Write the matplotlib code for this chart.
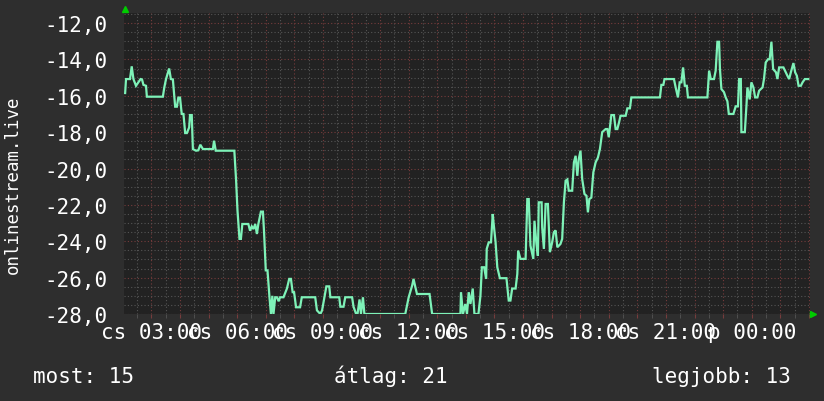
import matplotlib
matplotlib.use("Agg")
import matplotlib.pyplot as plt
from matplotlib.ticker import MultipleLocator
import numpy as np

# ---- data (hours since Thursday 00:00, value) ----
hours = [2.08, 2.11, 2.25, 2.31, 2.37, 2.46, 2.54, 2.62, 2.67, 2.72, 2.81, 2.84,
         3.40, 3.45, 3.51, 3.62, 3.68, 3.75, 3.83, 3.89, 3.94, 4.00, 4.06, 4.12,
         4.18, 4.24, 4.32, 4.35, 4.41, 4.45, 4.56, 4.64, 4.71, 4.80, 5.15, 5.19,
         5.25, 5.90, 5.96, 6.01, 6.08, 6.13, 6.18, 6.39, 6.45, 6.51, 6.57, 6.63,
         6.69, 6.74, 6.83, 6.90, 6.94, 7.00, 7.06, 7.13, 7.18, 7.23, 7.27, 7.33,
         7.39, 7.45, 7.50, 7.62, 7.74, 7.82, 7.88, 7.94, 7.99, 8.06, 8.20, 8.26,
         8.73, 8.79, 8.91, 8.97, 9.05, 9.12, 9.22, 9.26, 9.57, 9.61, 9.72, 9.78,
         10.02, 10.07, 10.16, 10.21, 10.28, 10.33, 10.40, 10.45, 11.88, 12.00,
         12.12, 12.17, 12.23, 12.29, 12.73, 12.82, 13.81, 13.83, 13.90, 13.98,
         14.04, 14.10, 14.16, 14.24, 14.30, 14.37, 14.44, 14.51, 14.56, 14.64,
         14.71, 14.73, 14.80, 14.88, 14.94, 14.97, 15.04, 15.10, 15.19, 15.42,
         15.50, 15.56, 15.62, 15.74, 15.80, 15.83, 15.91, 16.09, 16.15, 16.20,
         16.26, 16.36, 16.40, 16.47, 16.52, 16.55, 16.65, 16.67, 16.73, 16.79,
         16.87, 16.94, 17.02, 17.08, 17.14, 17.20, 17.31, 17.37, 17.43, 17.49,
         17.55, 17.60, 17.72, 17.78, 17.84, 17.90, 17.95, 18.01, 18.07, 18.15,
         18.22, 18.27, 18.32, 18.39, 18.46, 18.54, 18.62, 18.69, 18.77, 18.89,
         18.95, 19.00, 19.09, 19.18, 19.24, 19.30, 19.36, 19.41, 19.59, 19.65,
         19.74, 19.79, 20.79, 20.84, 20.91, 20.95, 21.28, 21.34, 21.42, 21.48,
         21.54, 21.60, 21.66, 21.73, 21.77, 22.45, 22.51, 22.57, 22.68, 22.74,
         22.80, 22.86, 22.89, 22.94, 23.03, 23.09, 23.15, 23.20, 23.36, 23.44,
         23.52, 23.56, 23.62, 23.64, 23.76, 23.82, 23.85, 23.93, 23.99, 24.06,
         24.12, 24.20, 24.26, 24.38, 24.43, 24.49, 24.57, 24.63, 24.69, 24.75,
         24.85, 24.90, 24.96, 25.11, 25.19, 25.25, 25.31, 25.37, 25.46, 25.52,
         25.58, 25.64, 25.72, 25.78, 25.86, 25.98]
values = [-15.85, -15.08, -15.08, -14.38, -15.08, -15.45, -15.26, -15.08, -15.10, -15.40, -15.45, -16.05,
          -16.05, -15.54, -15.08, -14.50, -15.08, -15.10, -16.60, -16.60, -16.10, -16.10, -17.00, -17.00,
          -18.05, -18.05, -17.74, -17.06, -17.06, -18.93, -19.02, -19.00, -18.69, -18.93, -18.93, -18.47,
          -19.02, -19.02, -20.60, -22.30, -23.87, -23.87, -23.05, -23.05, -23.42, -23.18, -23.33, -23.05,
          -23.60, -23.05, -22.37, -22.37, -23.50, -25.60, -25.60, -27.08, -28.00, -27.00, -28.00, -27.08,
          -27.08, -27.30, -27.08, -27.08, -26.60, -26.07, -26.07, -26.80, -26.80, -27.63, -27.63, -27.08,
          -27.08, -27.80, -28.00, -27.80, -27.08, -26.48, -26.48, -27.08, -27.08, -27.60, -27.60, -27.08,
          -27.08, -27.60, -28.00, -28.00, -27.20, -28.00, -27.08, -28.00, -28.00, -27.08,
          -26.44, -26.07, -26.50, -26.90, -26.90, -28.00, -28.00, -26.80, -28.00, -27.45,
          -28.00, -26.80, -27.45, -26.60, -28.00, -28.00, -28.00, -27.00, -25.43, -25.43,
          -26.07, -24.42, -24.06, -24.06, -22.50, -23.00, -24.06, -25.43, -26.03, -26.03,
          -27.26, -27.26, -26.60, -26.60, -25.80, -24.51, -24.97, -24.97, -21.68, -21.68,
          -24.24, -24.97, -22.87, -24.15, -24.80, -21.86, -21.86, -23.23, -24.42, -21.95,
          -21.95, -24.60, -24.06, -23.50, -23.40, -24.33, -24.15, -23.87, -21.86, -20.67,
          -20.60, -21.22, -21.22, -19.66, -19.30, -20.40, -19.48, -19.02, -20.58, -21.40,
          -21.50, -22.41, -21.68, -21.60, -20.21, -19.66, -19.40, -18.93, -18.00, -17.83,
          -17.83, -18.28, -17.06, -17.06, -17.83, -17.83, -17.46, -17.10, -17.10, -16.69,
          -16.69, -16.09, -16.09, -15.40, -15.40, -15.08, -15.08, -15.54, -16.09, -15.26,
          -15.26, -14.44, -15.45, -15.45, -16.09, -16.09, -14.62, -15.08, -15.08, -14.62,
          -13.03, -13.03, -14.53, -15.63, -15.80, -16.09, -16.30, -17.00, -17.00, -16.58,
          -16.58, -15.08, -15.08, -18.00, -18.00, -16.45, -15.54, -16.20, -15.26, -15.54,
          -16.09, -16.09, -15.72, -15.54, -15.08, -14.17, -13.99, -13.99, -13.03, -14.53,
          -14.71, -15.08, -14.44, -14.44, -14.71, -14.90, -15.08, -14.71, -14.20, -14.71,
          -14.90, -15.45, -15.45, -15.26, -15.08, -15.08]

ytick_values = [-28, -26, -24, -22, -20, -18, -16, -14, -12]
ytick_labels = ['-28,0', '-26,0', '-24,0', '-22,0', '-20,0', '-18,0', '-16,0', '-14,0', '-12,0']
xtick_hours = [3, 6, 9, 12, 15, 18, 21, 24]
xtick_labels = ['cs 03:00', 'cs 06:00', 'cs 09:00', 'cs 12:00', 'cs 15:00',
                'cs 18:00', 'cs 21:00', 'p 00:00']
ylabel = 'onlinestream.live'
legend_items = ['most: 15', 'átlag: 21', 'legjobb: 13']

# ---- style ----
BG = '#2e2e2e'
CANVAS = '#222222'
MINOR = '#555555'
MAJOR = '#763c3c'
LINE = '#7ef2b8'
ARROW = '#00cc00'
MONO = ['DejaVu Sans Mono']

fig = plt.figure(figsize=(8.24, 4.02), dpi=100, facecolor=BG)
W, H = 824, 402
ax = fig.add_axes([124 / W, 87 / H, 686 / W, (315 - 13.5) / H])
ax.set_facecolor(CANVAS)
ax.set_xlim(2.04, 26.04)
ax.set_ylim(-28, -11.42)

for s in ax.spines.values():
    s.set_visible(False)

ax.xaxis.set_major_locator(MultipleLocator(1))
ax.xaxis.set_minor_locator(MultipleLocator(0.5))
ax.yaxis.set_major_locator(MultipleLocator(2))
ax.yaxis.set_minor_locator(MultipleLocator(0.5))

dot = (0, (1, 2))
ax.grid(which='minor', color=MINOR, linestyle=dot, linewidth=0.8)
ax.grid(which='major', color=MAJOR, linestyle=dot, linewidth=0.8)
ax.set_axisbelow(True)

# x tick labels only every 3 hours
maj = np.arange(3, 27, 1)
lab = []
for h in maj:
    lab.append(xtick_labels[xtick_hours.index(h)] if h in xtick_hours else '')
ax.set_xticks(maj)
ax.set_xticklabels(lab)
ax.set_yticks(ytick_values)
ax.set_yticklabels(ytick_labels)

ax.tick_params(axis='x', which='major', length=3, color=MAJOR, pad=3,
               labelcolor='white', labelsize=15)
ax.tick_params(axis='x', which='minor', length=3, color=MINOR)
ax.tick_params(axis='y', which='both', length=0, pad=12,
               labelcolor='white', labelsize=15)
for t in ax.get_xticklabels() + ax.get_yticklabels():
    t.set_fontfamily(MONO)

ax.plot(hours, values, color=LINE, linewidth=1.6, solid_joinstyle='miter')

# arrows
ax.plot([0.001], [1.013], marker='^', color=ARROW, markersize=5,
        transform=ax.transAxes, clip_on=False, linestyle='none')
ax.plot([1.005], [0.0], marker='>', color=ARROW, markersize=5,
        transform=ax.transAxes, clip_on=False, linestyle='none')

fig.text(13 / W, 1 - 185 / H, ylabel, rotation=90, color='white',
         fontsize=12.5, family=MONO, ha='center', va='center')

fig.text(33 / W, 1 - 383 / H, legend_items[0], color='white', fontsize=15,
         family=MONO, ha='left', va='baseline')
fig.text(334 / W, 1 - 383 / H, legend_items[1], color='white', fontsize=15,
         family=MONO, ha='left', va='baseline')
fig.text(791 / W, 1 - 383 / H, legend_items[2], color='white', fontsize=15,
         family=MONO, ha='right', va='baseline')

fig.savefig('out.png', dpi=100, facecolor=BG)
